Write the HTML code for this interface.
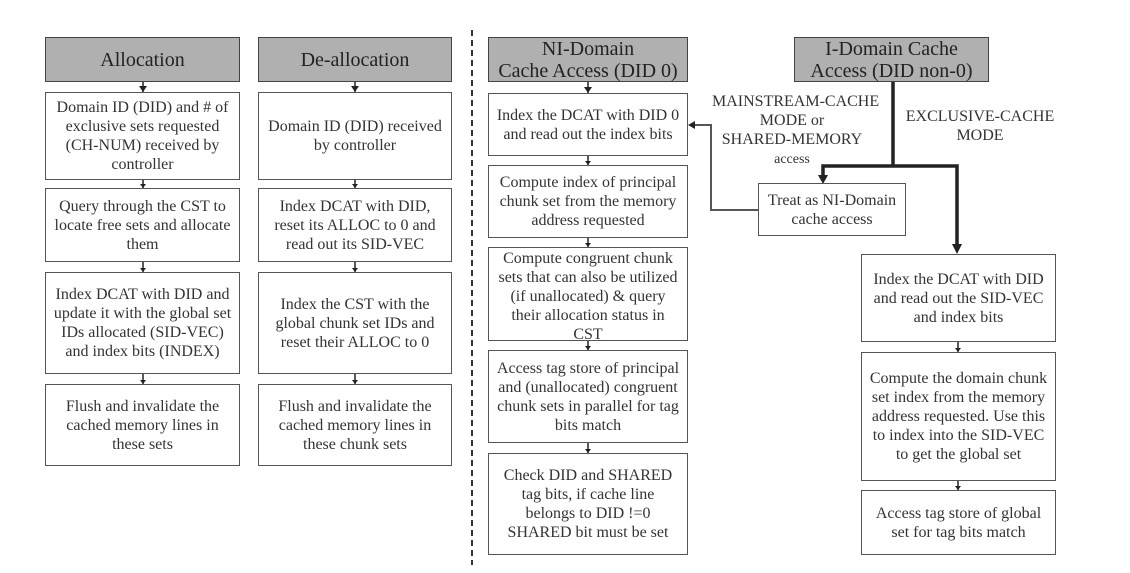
<!DOCTYPE html>
<html><head><meta charset="utf-8"><style>
body{margin:0;width:1130px;height:573px;background:#fff;position:relative;overflow:hidden;font-family:"Liberation Serif",serif;color:#333}
.b{position:absolute;box-sizing:border-box;border:1.5px solid #555;display:flex;align-items:center;justify-content:center;text-align:center;font-size:16px;line-height:19px;background:#fff;white-space:nowrap}
.h{background:#b0b0b0;font-size:20px;line-height:22px;border-color:#444;color:#222}
.l{position:absolute;text-align:center;font-size:16px;line-height:19px;color:#333;white-space:nowrap}
svg{position:absolute;left:0;top:0}
</style></head><body>
<svg width="1130" height="573">
<line x1="472" y1="30" x2="472" y2="565" stroke="#333" stroke-width="2" stroke-dasharray="6,4"/>
<g fill="#222" stroke="#222">
<g stroke-width="1.5">
<line x1="143" y1="82" x2="143" y2="92"/><polygon points="139,86 147,86 143,92" stroke="none"/>
<line x1="355" y1="82" x2="355" y2="92"/><polygon points="351,86 359,86 355,92" stroke="none"/>
<line x1="588" y1="82" x2="588" y2="93"/><polygon points="584,87 592,87 588,93" stroke="none"/>
<line x1="143" y1="180" x2="143" y2="188"/><line x1="143" y1="262" x2="143" y2="272"/><line x1="143" y1="374" x2="143" y2="384"/>
<line x1="355" y1="180" x2="355" y2="188"/><line x1="355" y1="262" x2="355" y2="272"/><line x1="355" y1="374" x2="355" y2="384"/>
<line x1="588" y1="156" x2="588" y2="165"/><line x1="588" y1="238" x2="588" y2="247"/><line x1="588" y1="341" x2="588" y2="350"/><line x1="588" y1="443" x2="588" y2="453"/>
<line x1="958" y1="342" x2="958" y2="352"/><line x1="958" y1="481" x2="958" y2="490"/>
</g>
<g stroke="none">
<polygon points="140,184 146,184 143,188"/><polygon points="140,268 146,268 143,272"/><polygon points="140,380 146,380 143,384"/>
<polygon points="352,184 358,184 355,188"/><polygon points="352,268 358,268 355,272"/><polygon points="352,380 358,380 355,384"/>
<polygon points="585,161 591,161 588,165"/><polygon points="585,243 591,243 588,247"/><polygon points="585,346 591,346 588,350"/><polygon points="585,449 591,449 588,453"/>
<polygon points="955,348 961,348 958,352"/><polygon points="955,486 961,486 958,490"/>
</g>
<polyline points="893,82 893,166" fill="none" stroke-width="3.5"/>
<polyline points="823,178 823,166 957,166 957,246" fill="none" stroke-width="3.5"/>
<polygon points="818,175 828,175 823,184" stroke="none"/>
<polygon points="952,244 962,244 957,254" stroke="none"/>
<polyline points="758,210 711,210 711,125 694,125" fill="none" stroke="#555" stroke-width="2"/>
<polygon points="688,125 695,121 695,129" stroke="none"/>
</g>
</svg>
<div class="b h" style="left:45px;top:37px;width:195px;height:45px">Allocation</div>
<div class="b h" style="left:258px;top:37px;width:194px;height:45px">De-allocation</div>
<div class="b h" style="left:488px;top:37px;width:200px;height:45px">NI-Domain<br>Cache Access (DID 0)</div>
<div class="b h" style="left:794px;top:37px;width:195px;height:45px">I-Domain Cache<br>Access (DID non-0)</div>

<div class="b" style="left:45px;top:92px;width:195px;height:88px">Domain ID (DID) and # of<br>exclusive sets requested<br>(CH-NUM) received by<br>controller</div>
<div class="b" style="left:45px;top:188px;width:195px;height:74px">Query through the CST to<br>locate free sets and allocate<br>them</div>
<div class="b" style="left:45px;top:272px;width:195px;height:102px">Index DCAT with DID and<br>update it with the global set<br>IDs allocated (SID-VEC)<br>and index bits (INDEX)</div>
<div class="b" style="left:45px;top:384px;width:195px;height:82px">Flush and invalidate the<br>cached memory lines in<br>these sets</div>

<div class="b" style="left:258px;top:92px;width:194px;height:88px">Domain ID (DID) received<br>by controller</div>
<div class="b" style="left:258px;top:188px;width:194px;height:74px">Index DCAT with DID,<br>reset its ALLOC to 0 and<br>read out its SID-VEC</div>
<div class="b" style="left:258px;top:272px;width:194px;height:102px">Index the CST with the<br>global chunk set IDs and<br>reset their ALLOC to 0</div>
<div class="b" style="left:258px;top:384px;width:194px;height:82px">Flush and invalidate the<br>cached memory lines in<br>these chunk sets</div>

<div class="b" style="left:488px;top:93px;width:200px;height:63px">Index the DCAT with DID 0<br>and read out the index bits</div>
<div class="b" style="left:488px;top:165px;width:200px;height:73px">Compute index of principal<br>chunk set from the memory<br>address requested</div>
<div class="b" style="left:488px;top:247px;width:200px;height:94px;align-items:flex-start;padding-top:1px">Compute congruent chunk<br>sets that can also be utilized<br>(if unallocated) &amp; query<br>their allocation status in<br>CST</div>
<div class="b" style="left:488px;top:350px;width:200px;height:93px">Access tag store of principal<br>and (unallocated) congruent<br>chunk sets in parallel for tag<br>bits match</div>
<div class="b" style="left:488px;top:453px;width:200px;height:102px">Check DID and SHARED<br>tag bits, if cache line<br>belongs to DID !=0<br>SHARED bit must be set</div>

<div class="b" style="left:758px;top:183px;width:148px;height:53px">Treat as NI-Domain<br>cache access</div>
<div class="b" style="left:861px;top:254px;width:195px;height:88px">Index the DCAT with DID<br>and read out the SID-VEC<br>and index bits</div>
<div class="b" style="left:861px;top:352px;width:195px;height:129px">Compute the domain chunk<br>set index from the memory<br>address requested. Use this<br>to index into the SID-VEC<br>to get the global set</div>
<div class="b" style="left:861px;top:490px;width:195px;height:65px">Access tag store of global<br>set for tag bits match</div>

<div class="l" style="left:712px;top:92px;width:160px">MAINSTREAM-CACHE<br>MODE or<br>SHARED-MEMORY<br><span style="font-size:14px">access</span></div>
<div class="l" style="left:900px;top:107px;width:160px">EXCLUSIVE-CACHE<br>MODE</div>
</body></html>
